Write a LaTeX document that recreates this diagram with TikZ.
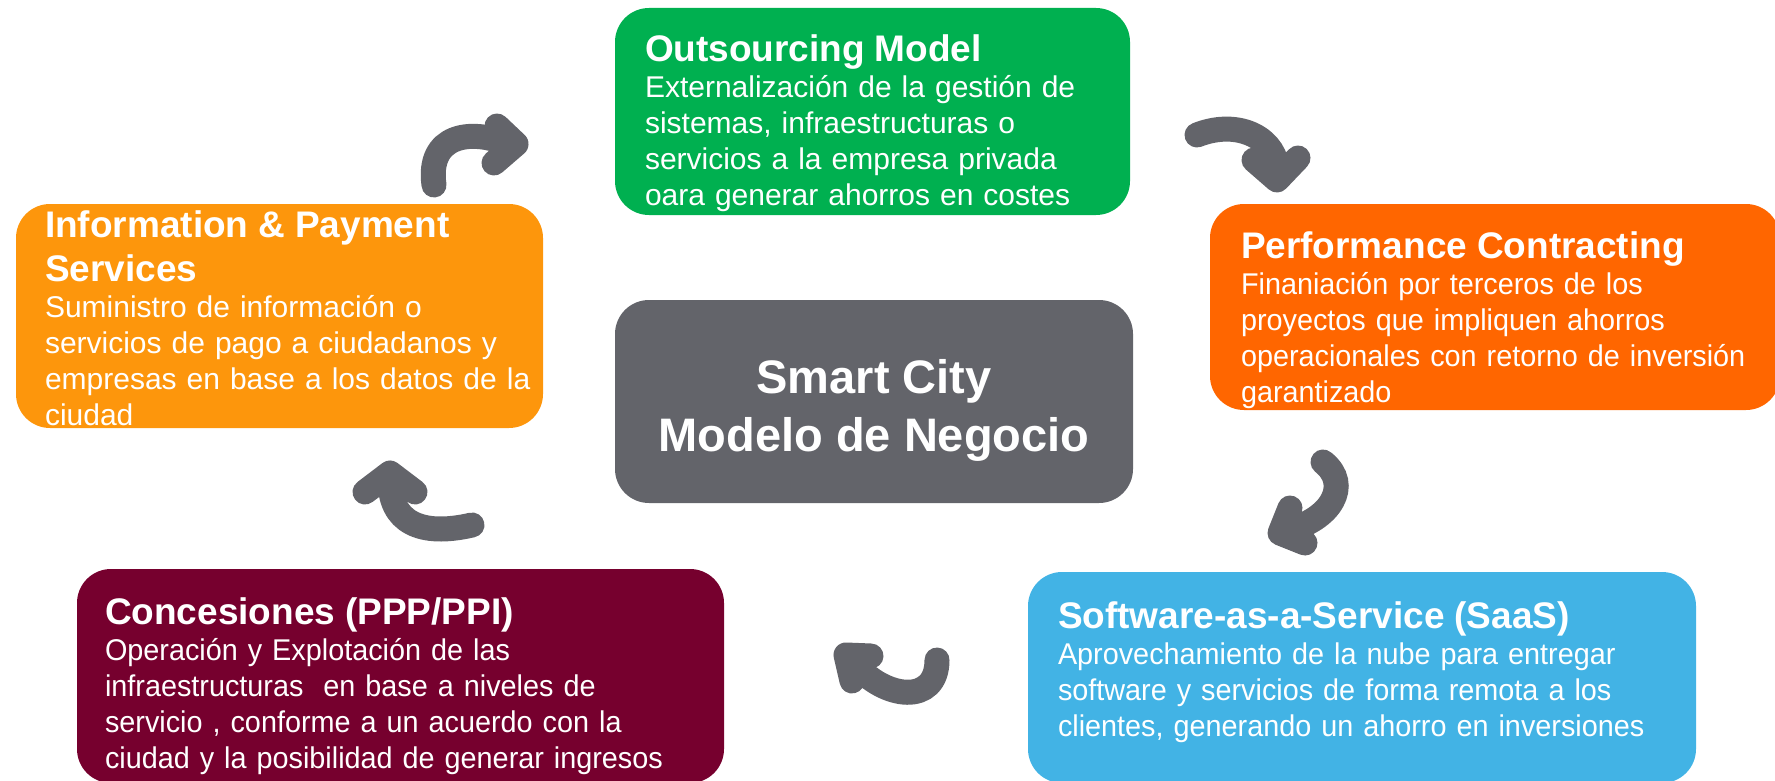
\documentclass[tikz,border=0pt]{standalone}
\usepackage{fontspec}
\setmainfont{Liberation Sans}
\newfontfamily\narrowbody[FakeStretch=0.96]{Liberation Sans}
\newlength{\du}
\setlength{\du}{1pt}
\definecolor{outsgreen}{RGB}{0,176,80}
\definecolor{perforange}{RGB}{255,102,0}
\definecolor{infoorange}{RGB}{253,150,12}
\definecolor{concmaroon}{RGB}{118,0,46}
\definecolor{saasblue}{RGB}{66,179,229}
\definecolor{hubgray}{RGB}{99,100,106}
\tikzset{
  panel/.style={rounded corners=34\du, inner sep=0pt, outer sep=0pt, anchor=north west},
  paneltext/.style={text=white, align=left, inner sep=0pt, outer sep=0pt, anchor=north west,
    font=\fontsize{30}{36}\selectfont},
  bendline/.style={draw=hubgray, line width=25\du, line cap=round},
  bendhead/.style={draw=hubgray, line width=25\du, line cap=round, line join=round},
}
\newcommand{\paneltitle}[1]{{\fontsize{37}{44}\selectfont\bfseries #1\par}}

\begin{document}
\begin{tikzpicture}
\pgftransformyscale{-1.000000}
\useasboundingbox (0\du,0\du) rectangle (1775\du,781\du);
% panels
\node[panel, fill=outsgreen, minimum width=515\du, minimum height=207\du] (outs) at (615\du,8\du) {};
\node[panel, fill=perforange, minimum width=570\du, minimum height=206\du] (perf) at (1210\du,204\du) {};
\node[panel, fill=infoorange, minimum width=527\du, minimum height=224\du] (info) at (16\du,204\du) {};
\node[panel, fill=hubgray, minimum width=518\du, minimum height=203\du] (hub) at (615\du,300\du) {};
\node[panel, fill=concmaroon, minimum width=647\du, minimum height=214\du] (conc) at (77\du,569\du) {};
\node[panel, fill=saasblue, minimum width=668\du, minimum height=211\du] (saas) at (1028\du,572\du) {};
% setfont left to latex
\node[paneltext, text width=470\du] (outstext) at (645\du,35\du) {\paneltitle{Outsourcing Model}
Externalización de la gestión de\\
sistemas, infraestructuras o\\
servicios a la empresa privada\\
oara generar ahorros en costes};
\node[paneltext, text width=530\du] (perftext) at (1241\du,232\du) {\paneltitle{Performance Contracting}
\narrowbody Finaniación por terceros de los\\
proyectos que impliquen ahorros\\
operacionales con retorno de inversión\\
garantizado};
\node[paneltext, text width=490\du] (infotext) at (45\du,211\du) {\paneltitle{Information \& Payment\\ Services}
Suministro de información o\\
servicios de pago a ciudadanos y\\
empresas en base a los datos de la\\
ciudad};
\node[paneltext, text width=610\du] (conctext) at (105\du,598\du) {\paneltitle{Concesiones (PPP/PPI)}
\narrowbody Operación y Explotación de las\\
infraestructuras~ en base a niveles de\\
servicio , conforme a un acuerdo con la\\
ciudad y la posibilidad de generar ingresos};
\node[paneltext, text width=630\du] (saastext) at (1058\du,602\du) {\paneltitle{Software-as-a-Service (SaaS)}
\narrowbody Aprovechamiento de la nube para entregar\\
software y servicios de forma remota a los\\
clientes, generando un ahorro en inversiones};
\node[text=white, align=center, inner sep=0pt, font=\fontsize{47}{58}\selectfont\bfseries] (hubtext) at (874\du,410\du) {Smart City\\Modelo de Negocio};
% arrows
\coordinate (a1s) at (434\du,185\du);
\coordinate (a1e) at (508\du,144\du);
\coordinate (a1t) at (516\du,144\du);
\coordinate (a1l) at (497\du,126\du);
\coordinate (a1r) at (494\du,163\du);
\draw[bendline] (a1s) .. controls (427\du,135\du) and (470\du,128\du) .. (a1e);
\draw[bendhead] (a1l) -- (a1t) -- (a1r);
\coordinate (a2s) at (1197\du,135\du);
\coordinate (a2e) at (1277\du,172\du);
\coordinate (a2t) at (1277\du,180\du);
\coordinate (a2l) at (1254\du,160\du);
\coordinate (a2r) at (1298\du,158\du);
\draw[bendline] (a2s) .. controls (1240\du,118\du) and (1278\du,140\du) .. (a2e);
\draw[bendhead] (a2l) -- (a2t) -- (a2r);
\coordinate (a3s) at (1323\du,462\du);
\coordinate (a3e) at (1288\du,530\du);
\coordinate (a3t) at (1280\du,533\du);
\coordinate (a3l) at (1290\du,508\du);
\coordinate (a3r) at (1305\du,543\du);
\draw[bendline] (a3s) .. controls (1352\du,485\du) and (1330\du,520\du) .. (a3e);
\draw[bendhead] (a3l) -- (a3t) -- (a3r);
\coordinate (a4s) at (937\du,660\du);
\coordinate (a4e) at (854\du,663\du);
\coordinate (a4t) at (846\du,655\du);
\coordinate (a4l) at (871\du,656\du);
\coordinate (a4r) at (852\du,681\du);
\draw[bendline] (a4s) .. controls (937\du,705\du) and (885\du,700\du) .. (a4e);
\draw[bendhead] (a4l) -- (a4t) -- (a4r);
\coordinate (a5s) at (472\du,525\du);
\coordinate (a5e) at (390\du,480\du);
\coordinate (a5t) at (390\du,473\du);
\coordinate (a5l) at (365\du,492\du);
\coordinate (a5r) at (415\du,492\du);
\draw[bendline] (a5s) .. controls (420\du,537\du) and (390\du,522\du) .. (a5e);
\draw[bendhead] (a5l) -- (a5t) -- (a5r);
\end{tikzpicture}
\end{document}
